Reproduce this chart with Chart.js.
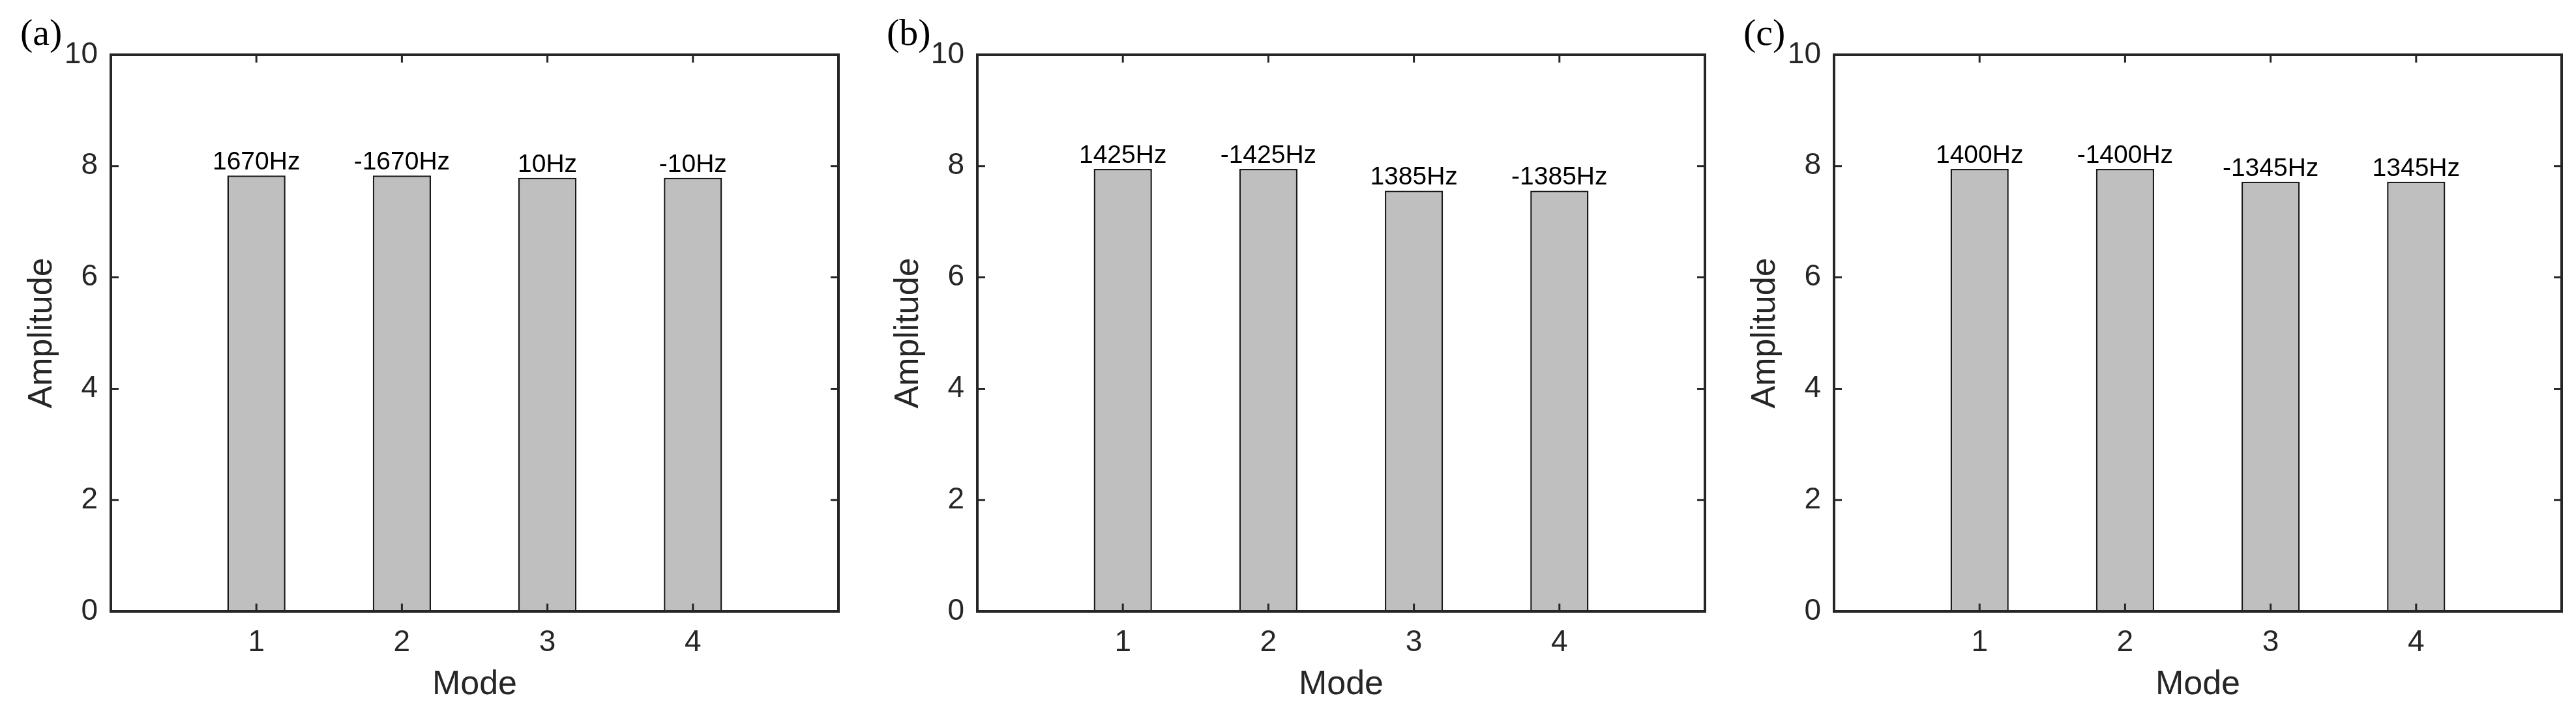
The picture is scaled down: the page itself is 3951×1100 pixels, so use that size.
<!DOCTYPE html>
<html>
<head>
<meta charset="utf-8">
<script src="https://cdn.jsdelivr.net/npm/chart.js@4.4.1/dist/chart.umd.min.js"></script>
<style>
  html, body { margin: 0; padding: 0; background: #fff; }
  #wrap { position: relative; width: 3951px; height: 1100px; overflow: hidden; background: #fff; }
  canvas { position: absolute; top: 0; }
</style>
</head>
<body>
<div id="wrap">
  <canvas id="pa" width="1300" height="1100" style="left:0px"></canvas>
  <canvas id="pb" width="1300" height="1100" style="left:1329px"></canvas>
  <canvas id="pc" width="1300" height="1100" style="left:2643px"></canvas>
</div>
<script>
// data
const modes = [1, 2, 3, 4];
const yTicks = [0, 2, 4, 6, 8, 10];

const ampA = [7.83, 7.83, 7.79, 7.79];
const freqA = ['1670Hz', '-1670Hz', '10Hz', '-10Hz'];

const ampB = [7.95, 7.95, 7.56, 7.56];
const freqB = ['1425Hz', '-1425Hz', '1385Hz', '-1385Hz'];

const ampC = [7.95, 7.95, 7.72, 7.72];
const freqC = ['1400Hz', '-1400Hz', '-1345Hz', '1345Hz'];

const SANS = '"Liberation Sans", Arial, sans-serif';
const SERIF = '"Liberation Serif", "Times New Roman", serif';
const AXIS_COLOR = '#262626';
const TICK = 12;

// box, inward ticks, bar labels and panel tag
const framePlugin = {
  id: 'frame',
  afterDatasetsDraw(chart, args, opts) {
    const {ctx, chartArea: a, scales: {x, y}} = chart;
    ctx.save();

    ctx.font = '39px ' + SANS;
    ctx.fillStyle = '#000';
    ctx.textAlign = 'center';
    ctx.textBaseline = 'alphabetic';
    chart.getDatasetMeta(0).data.forEach((bar, i) => {
      ctx.fillText(opts.freqs[i], bar.x, bar.y - 9);
    });

    ctx.strokeStyle = AXIS_COLOR;
    ctx.lineWidth = 4;
    ctx.strokeRect(a.left, a.top, a.right - a.left, a.bottom - a.top);

    ctx.lineWidth = 3;
    ctx.beginPath();
    x.ticks.forEach(t => {
      const px = x.getPixelForValue(t.value);
      ctx.moveTo(px, a.bottom); ctx.lineTo(px, a.bottom - TICK);
      ctx.moveTo(px, a.top); ctx.lineTo(px, a.top + TICK);
    });
    y.ticks.forEach(t => {
      const py = y.getPixelForValue(t.value);
      ctx.moveTo(a.left, py); ctx.lineTo(a.left + TICK, py);
      ctx.moveTo(a.right, py); ctx.lineTo(a.right - TICK, py);
    });
    ctx.stroke();

    ctx.font = '58px ' + SERIF;
    ctx.fillStyle = '#000';
    ctx.textAlign = 'left';
    ctx.textBaseline = 'middle';
    ctx.fillText(opts.tag, a.left - 139, 54);
    ctx.restore();
  }
};

function makePanel(id, amps, freqs, tag) {
  return new Chart(document.getElementById(id), {
    type: 'bar',
    data: {
      datasets: [{
        data: modes.map((m, i) => ({x: m, y: amps[i]})),
        backgroundColor: '#bfbfbf',
        borderColor: '#1a1a1a',
        borderWidth: 2.5,
        categoryPercentage: 1,
        barPercentage: 0.4
      }]
    },
    options: {
      responsive: false,
      animation: false,
      layout: { padding: { top: 84, right: 14, bottom: 0, left: 0 } },
      plugins: {
        legend: { display: false },
        tooltip: { enabled: false },
        frame: { freqs: freqs, tag: tag }
      },
      scales: {
        x: {
          type: 'linear',
          min: 0,
          max: 5,
          offset: false,
          afterBuildTicks: s => { s.ticks = modes.map(v => ({value: v})); },
          afterFit: s => { s.height = 162; },
          grid: { display: false, drawTicks: false },
          border: { display: false },
          ticks: {
            font: { family: SANS, size: 46 },
            color: AXIS_COLOR,
            padding: 21,
            maxRotation: 0,
            autoSkip: false
          },
          title: {
            display: true,
            text: 'Mode',
            font: { family: SANS, size: 52 },
            color: AXIS_COLOR,
            padding: { top: 0, bottom: 18 }
          }
        },
        y: {
          min: 0,
          max: 10,
          afterBuildTicks: s => { s.ticks = yTicks.map(v => ({value: v})); },
          afterFit: s => { s.width = 170; },
          grid: { display: false, drawTicks: false },
          border: { display: false },
          ticks: {
            font: { family: SANS, size: 46 },
            color: AXIS_COLOR,
            padding: 20
          },
          title: {
            display: true,
            text: 'Amplitude',
            font: { family: SANS, size: 52 },
            color: AXIS_COLOR,
            padding: { top: 33, bottom: 0 }
          }
        }
      }
    },
    plugins: [framePlugin]
  });
}

makePanel('pa', ampA, freqA, '(a)');
makePanel('pb', ampB, freqB, '(b)');
makePanel('pc', ampC, freqC, '(c)');
</script>
</body>
</html>
